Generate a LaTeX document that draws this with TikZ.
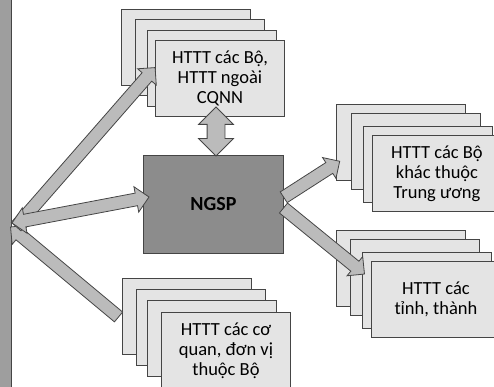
\documentclass[tikz,border=0pt]{standalone}
\usepackage{fontspec}
\setmainfont{Carlito}
\usetikzlibrary{calc,shapes.arrows}

\definecolor{sheetgray}{HTML}{E4E4E4}
\definecolor{hubgray}{HTML}{8C8C8C}
\definecolor{arrgray}{HTML}{BBBBBB}
\definecolor{bargray}{HTML}{9E9E9E}
\definecolor{edgegray}{HTML}{454545}

\tikzstyle{sheet} = [draw=edgegray, fill=sheetgray, line width=0.9pt, minimum width=129pt, minimum height=76pt, anchor=north west, inner sep=0pt]
\tikzstyle{sheettext} = [align=center, font=\fontsize{18.5}{20}\selectfont]
\tikzstyle{onearrow} = [single arrow, draw=edgegray, fill=arrgray, line width=0.8pt, inner xsep=0pt, inner ysep=6pt, single arrow head extend=6pt]
\tikzstyle{twoarrow} = [double arrow, draw=edgegray, fill=arrgray, line width=0.8pt, inner xsep=0pt, inner ysep=6pt, double arrow head extend=6.5pt]

% block arrow from #2 to #3, style #1
\newcommand{\blockarrow}[3]{%
  \path let \p1=($(#3)-(#2)$), \n1={atan2(\y1,\x1)}, \n2={veclen(\x1,\y1)} in
    node[#1, rotate=\n1, minimum height=\n2] at ($(#2)!0.5!(#3)$) {};}

\begin{document}
\begin{tikzpicture}[x=1pt, y=-1pt]
  \useasboundingbox (0,0) rectangle (494,387);

  % left bar
  \node[fill=bargray, anchor=north west, minimum width=11pt, minimum height=387pt, inner sep=0pt] (bar) at (0,0) {};
  \draw[edgegray, line width=1pt] (bar.north east) -- (bar.south east);

  % stacks
  \foreach \dx/\dy [count=\i] in {0/0,14/10,26/21}
    \node[sheet] (bo\i) at ($(121,9)+(\dx,\dy)$) {};
  \node[sheet, sheettext] (bo) at (155,40) {HTTT các Bộ,\\HTTT ngoài\\CQNN};

  \foreach \dx/\dy [count=\i] in {0/0,15/9,27/22}
    \node[sheet] (tw\i) at ($(336,104)+(\dx,\dy)$) {};
  \node[sheet, sheettext] (tw) at (372,135) {HTTT các Bộ\\khác thuộc\\Trung ương};

  \foreach \dx/\dy [count=\i] in {0/0,14/9,26/22}
    \node[sheet] (tinh\i) at ($(336,230)+(\dx,\dy)$) {};
  \node[sheet, sheettext] (tinh) at (371,261) {HTTT các\\tỉnh, thành};

  \foreach \dx/\dy [count=\i] in {0/0,14/11,25/22}
    \node[sheet] (cq\i) at ($(122,278)+(\dx,\dy)$) {};
  \node[sheet, sheettext] (cq) at (161,312) {HTTT các cơ\\quan, đơn vị\\thuộc Bộ};

  % hub
  \node[draw=edgegray, fill=hubgray, line width=0.9pt, anchor=north west, minimum width=140pt, minimum height=98pt,
        font=\bfseries\fontsize{20}{22}\selectfont] (ngsp) at (143,155) {NGSP};

  % arrow ends
  \coordinate (a1) at (14,229);
  \coordinate (a2) at (153,70);
  \coordinate (b1) at (12,223);
  \coordinate (b2) at (149,197);
  \coordinate (c1) at (121,319);
  \coordinate (c2) at (13,229);
  \coordinate (d1) at (281,199);
  \coordinate (d2) at (337,163);
  \coordinate (e1) at (281,206);
  \coordinate (e2) at (362,272);
  \coordinate (f1) at (216,107);
  \coordinate (f2) at (216,156);

  \blockarrow{onearrow}{c1}{c2}
  \blockarrow{onearrow}{a1}{a2}
  \blockarrow{twoarrow}{b1}{b2}
  \blockarrow{onearrow}{d1}{d2}
  \blockarrow{onearrow}{e1}{e2}
  \blockarrow{twoarrow, inner ysep=8.5pt, double arrow head extend=8.5pt}{f1}{f2}
\end{tikzpicture}
\end{document}
